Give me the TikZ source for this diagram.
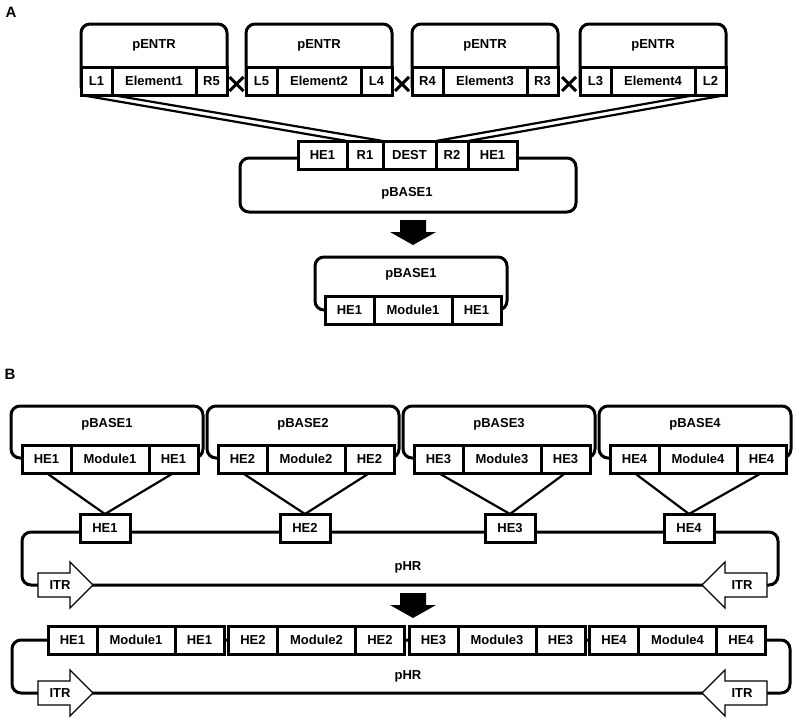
\documentclass[tikz,border=0pt]{standalone}
\usepackage{fontspec}
\setmainfont{Liberation Sans}
\usetikzlibrary{positioning,calc,shapes.misc}

\tikzset{
  lbl/.style={font=\fontsize{13}{15}\selectfont\bfseries, text height=9.3pt, text depth=0pt, inner sep=0pt},
  cell/.style={lbl, draw, fill=white, line width=3pt, minimum height=28pt, outer sep=0pt},
  rbox/.style={draw, fill=white, line width=3pt, rounded corners=9pt, inner sep=0pt, outer sep=0pt},
  link/.style={line width=2.2pt},
  xmark/.style={draw, cross out, line width=3pt, minimum size=11pt, inner sep=0pt},
  itr/.style={draw, fill=white, line width=1.3pt, line join=miter}
}

\begin{document}
\begin{tikzpicture}[x=1pt, y=-1pt]
  \useasboundingbox (0,0) rectangle (799,723);

  % A
  \node[font=\fontsize{15}{17}\selectfont\bfseries, inner sep=0pt] (tagA) at (11,12) {A};
  \foreach \i/\x/\l/\r in {1/81/L1/R5, 2/246/L5/L4, 3/412/R4/R3, 4/580/L3/L2} {
    \node[rbox, minimum width=146pt, minimum height=71pt, anchor=north west] (entr\i) at (\x,24) {};
    \node[lbl] (tentr\i) at (\x+73,44) {pENTR};
    \node[cell, minimum width=31pt, anchor=north west] (lft\i) at (\x,67) {\l};
    \node[cell, minimum width=84pt, right=0pt of lft\i] (elem\i) {Element\i};
    \node[cell, minimum width=31pt, right=0pt of elem\i] (rgt\i) {\r};
  }
  \foreach \i/\j in {1/2, 2/3, 3/4}
    \node[xmark, yshift=-3pt] (cx\i) at ($(rgt\i.east)!0.5!(lft\j.west)$) {};

  \node[rbox, minimum width=336pt, minimum height=54pt, anchor=north west] (base) at (240,158) {};
  \node[lbl] (tbase) at (407,192) {pBASE1};
  \node[cell, minimum width=49pt, anchor=north west] (hea) at (298,141) {HE1};
  \node[cell, minimum width=36pt, right=0pt of hea] (r1) {R1};
  \node[cell, minimum width=53pt, right=0pt of r1] (dest) {DEST};
  \node[cell, minimum width=32pt, right=0pt of dest] (r2) {R2};
  \node[cell, minimum width=49pt, right=0pt of r2] (heb) {HE1};

  \draw[link] (lft1.south west) -- (r1.north west);
  \draw[link] (lft1.south east) -- (r1.north east);
  \draw[link] (rgt4.south west) -- (r2.north west);
  \draw[link] (rgt4.south east) -- (r2.north east);

  \fill (400,220) -- (426,220) -- (426,232) -- (436,232) -- (413,245) -- (390,232) -- (400,232) -- cycle;

  \node[rbox, minimum width=192pt, minimum height=53pt, anchor=north west] (mbase) at (315,257) {};
  \node[lbl] (tmbase) at (411,273) {pBASE1};
  \node[cell, minimum width=49pt, anchor=north west] (mha) at (325,296) {HE1};
  \node[cell, minimum width=78pt, right=0pt of mha] (mmod) {Module1};
  \node[cell, minimum width=49pt, right=0pt of mmod] (mhb) {HE1};

  % B
  \node[font=\fontsize{15}{17}\selectfont\bfseries, inner sep=0pt] (tagB) at (10,374) {B};
  \node[rbox, fill=none, minimum width=756pt, minimum height=53pt, anchor=north west] (phr) at (22,532) {};
  \node[lbl] (tphr) at (408,566) {pHR};
  \foreach \i/\x/\h in {1/11/105, 2/207/305, 3/403/510, 4/599/689} {
    \node[rbox, minimum width=192pt, minimum height=52pt, anchor=north west] (bbase\i) at (\x,406) {};
    \node[lbl] (tbbase\i) at (\x+96,423) {pBASE\i};
    \node[cell, minimum width=49pt, anchor=north west] (hl\i) at (\x+11,445) {HE\i};
    \node[cell, minimum width=78pt, right=0pt of hl\i] (mod\i) {Module\i};
    \node[cell, minimum width=49pt, right=0pt of mod\i] (hr\i) {HE\i};
    \node[cell, minimum width=50pt] (he\i) at (\h,528) {HE\i};
    \draw[link] (hl\i.south) -- (he\i.north);
    \draw[link] (hr\i.south) -- (he\i.north);
  }

  \fill (400,593) -- (426,593) -- (426,605) -- (436,605) -- (413,618) -- (390,605) -- (400,605) -- cycle;

  \node[rbox, fill=none, minimum width=778pt, minimum height=53pt, anchor=north west] (phrb) at (12,640) {};
  \node[lbl] (tphrb) at (408,675) {pHR};
  \foreach \i/\x in {1/48, 2/228.5, 3/409, 4/589.5} {
    \node[cell, minimum width=49pt, anchor=north west] (fa\i) at (\x,626) {HE\i};
    \node[cell, minimum width=78pt, right=0pt of fa\i] (fm\i) {Module\i};
    \node[cell, minimum width=49pt, right=0pt of fm\i] (fb\i) {HE\i};
  }

  % ITR
  \foreach \k/\y in {1/585, 2/693} {
    \draw[itr] (38,\y-12) -- (70,\y-12) -- (70,\y-23) -- (93,\y) -- (70,\y+23) -- (70,\y+12) -- (38,\y+12) -- cycle;
    \node[lbl] (itrl\k) at (60,\y) {ITR};
    \draw[itr] (767,\y-12) -- (725,\y-12) -- (725,\y-23) -- (702,\y) -- (725,\y+23) -- (725,\y+12) -- (767,\y+12) -- cycle;
    \node[lbl] (itrr\k) at (742,\y) {ITR};
  }
\end{tikzpicture}
\end{document}
